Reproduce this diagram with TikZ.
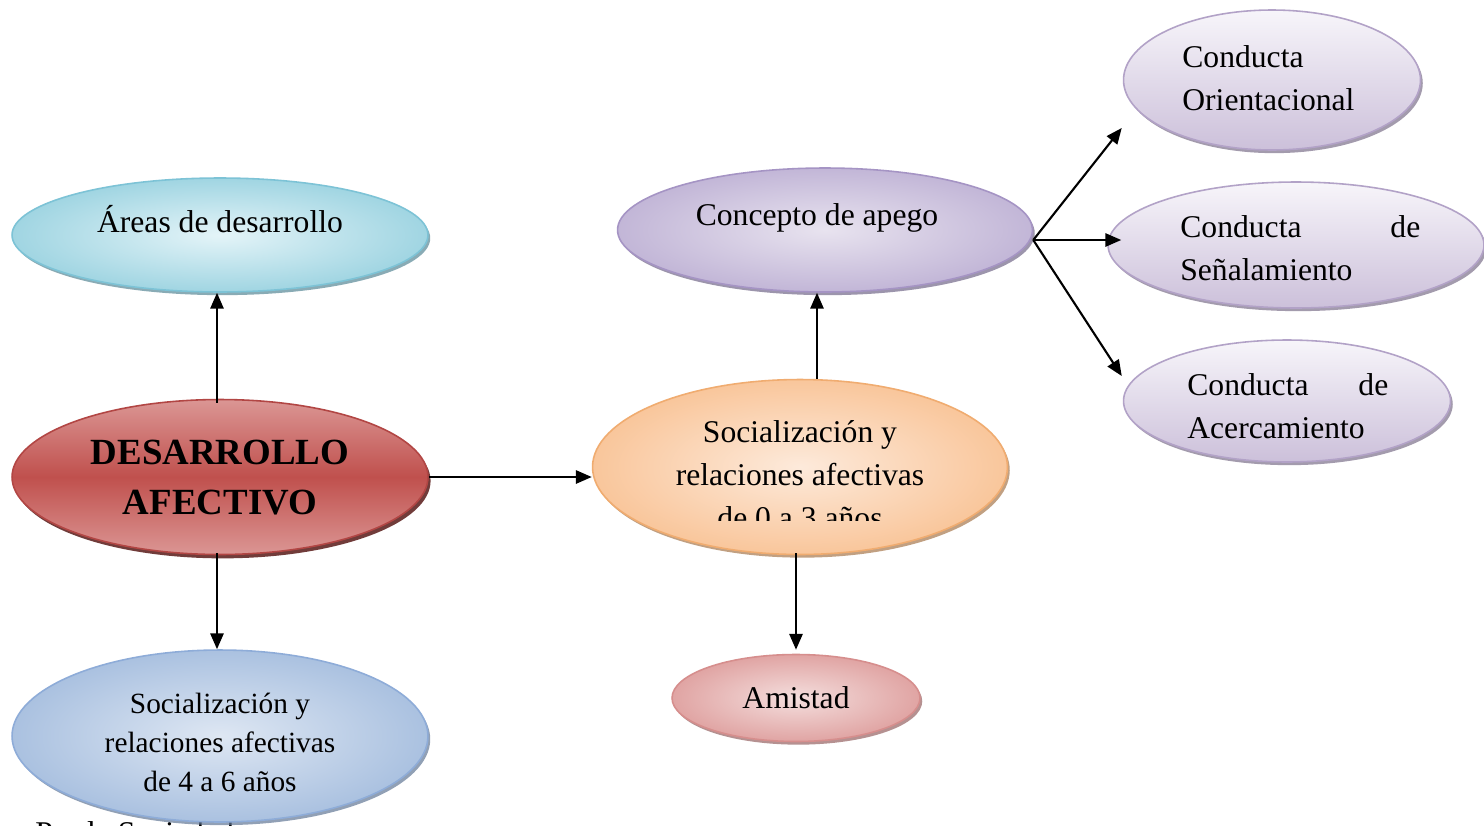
\documentclass[tikz,border=0pt]{standalone}
\usepackage{fontspec}
\setmainfont{Liberation Serif}
\usetikzlibrary{shapes,arrows.meta,shadows,calc}
\definecolor{AreasDark}{RGB}{160,213,226}
\definecolor{AreasLight}{RGB}{228,244,248}
\definecolor{AreasLine}{RGB}{125,195,214}
\definecolor{RedDark}{RGB}{192,80,77}
\definecolor{RedLight}{RGB}{219,150,148}
\definecolor{RedLine}{RGB}{178,70,68}
\definecolor{BlueDark}{RGB}{170,193,224}
\definecolor{BlueLight}{RGB}{222,231,243}
\definecolor{BlueLine}{RGB}{142,172,216}
\definecolor{LilaDark}{RGB}{194,182,215}
\definecolor{LilaLight}{RGB}{232,227,239}
\definecolor{LilaLine}{RGB}{165,148,196}
\definecolor{PeachDark}{RGB}{249,198,155}
\definecolor{PeachLight}{RGB}{253,234,219}
\definecolor{PeachLine}{RGB}{240,172,112}
\definecolor{PinkDark}{RGB}{224,164,163}
\definecolor{PinkLight}{RGB}{244,222,221}
\definecolor{PinkLine}{RGB}{214,142,141}
\definecolor{CondTop}{RGB}{247,245,250}
\definecolor{CondBottom}{RGB}{204,192,218}
\definecolor{CondLine}{RGB}{178,162,199}
\tikzset{sombra/.style={drop shadow={shadow xshift=1.3pt, shadow yshift=-1.8pt, fill=#1!70!black, opacity=0.7}}}

\begin{document}
\begin{tikzpicture}[x=0.02cm, y=-0.02cm]
	\tikzstyle{blob}=[ellipse, draw, line width=0.9pt, inner sep=0pt]
	\tikzstyle{txt}=[inner sep=0pt, align=center, font=\fontsize{18}{24.5}\selectfont]
	\tikzstyle{link}=[->, >={Triangle[length=9pt,width=7.5pt]}, line width=1.2pt]
	\clip (0,0) rectangle (1484,825);
	\fill [white] (0,0) rectangle (1484,825);
	% pie de figura, casi tapado
	\node [txt, anchor=base west] (fuente) at (35,843) {Por la Sociedad};
	% elipses
	\node [blob, draw=AreasLine, inner color=AreasLight, outer color=AreasDark, sombra=AreasLine, minimum width=8.32cm, minimum height=2.28cm] (areas) at (220,235) {};
	\node [blob, draw=RedLine, top color=RedLight, bottom color=RedLight, middle color=RedDark, drop shadow={shadow xshift=1.5pt, shadow yshift=-2.2pt, fill=RedLine!55!black, opacity=0.9}, minimum width=8.32cm, minimum height=3.1cm] (desarrollo) at (220,477) {};
	\node [blob, draw=BlueLine, inner color=BlueLight, outer color=BlueDark, sombra=BlueLine, minimum width=8.32cm, minimum height=3.44cm] (soc46) at (220,736) {};
	\node [blob, draw=LilaLine, inner color=LilaLight, outer color=LilaDark, sombra=LilaLine, minimum width=8.3cm, minimum height=2.48cm] (apego) at (825,230) {};
	\node [blob, draw=PeachLine, inner color=PeachLight, outer color=PeachDark, sombra=PeachLine, minimum width=8.3cm, minimum height=3.5cm] (soc03) at (800,467) {};
	\node [blob, draw=PinkLine, inner color=PinkLight, outer color=PinkDark, sombra=PinkLine, minimum width=4.96cm, minimum height=1.74cm] (amistad) at (796,698) {};
	\node [blob, draw=CondLine, top color=CondTop, bottom color=CondBottom, sombra=CondLine, minimum width=5.94cm, minimum height=2.8cm] (orient) at (1272,80) {};
	\node [blob, draw=CondLine, top color=CondTop, bottom color=CondBottom, sombra=CondLine, minimum width=7.52cm, minimum height=2.52cm] (senal) at (1296,245) {};
	\node [blob, draw=CondLine, top color=CondTop, bottom color=CondBottom, sombra=CondLine, minimum width=6.54cm, minimum height=2.44cm] (acerc) at (1287,401) {};
	% textos
	\node [txt] (t-areas) at (220,219) {Áreas de desarrollo};
	\node [txt, font=\bfseries\fontsize{21}{28.5}\selectfont] (t-des) at (220,478) {DESARROLLO\\AFECTIVO};
	\node [txt, font=\fontsize{16.7}{22.2}\selectfont] (t-soc46) at (220,742) {Socialización y\\relaciones afectivas\\de 4 a 6 años};
	\node [txt] (t-apego) at (817,218) {Concepto de apego};
	\begin{scope}
		\clip (590,380) rectangle (1010,520);
		\node [txt] (t-soc03) at (800,475) {Socialización y\\relaciones afectivas\\de 0 a 3 años};
	\end{scope}
	\node [txt] (t-amistad) at (796,698) {Amistad};
	\node [txt, align=left, anchor=west] (t-orient) at (1182,78) {Conducta\\Orientacional};
	\node [txt, align=left, text width=4.8cm, anchor=west] (t-senal) at (1180,248) {Conducta\hfill de\\Señalamiento};
	\node [txt, align=left, text width=4.02cm, anchor=west] (t-acerc) at (1187,406) {Conducta\hfill de\\Acercamiento};
	% flechas
	\draw [link] ($(desarrollo.north)+(-3,4)$) -- ($(areas.south)+(-3,0)$);
	\draw [link] ($(desarrollo.south)+(-3,-2)$) -- ($(soc46.north)+(-3,0)$);
	\draw [link] (desarrollo.east) -- (soc03.west |- desarrollo.east);
	\draw [link] ($(soc03.north)+(17,0)$) -- ($(apego.south)+(-8,0)$);
	\draw [link] ($(soc03.south)+(-4,-2)$) -- ($(amistad.north)+(0,-4)$);
	\coordinate (hub) at ($(apego.east)+(0,10)$);
	\coordinate (e-orient) at ($(orient.west)+(-1,48)$);
	\coordinate (e-acerc) at ($(acerc.west)+(-1,-25)$);
	\draw [link] (hub) -- (e-orient);
	\draw [link] (hub) -- ($(hub -| senal.west)+(14,0)$);
	\draw [link] (hub) -- (e-acerc);
\end{tikzpicture}
\end{document}
